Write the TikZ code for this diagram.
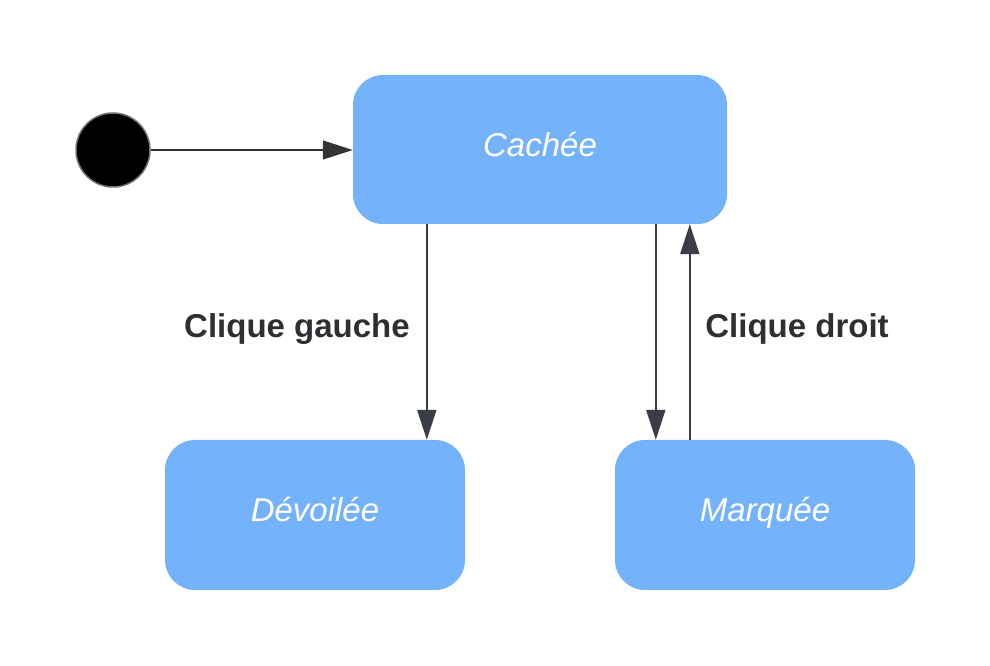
\documentclass[tikz,border=0pt]{standalone}
\usepackage{fontspec}
\setmainfont{Liberation Sans}
\usetikzlibrary{arrows.meta,calc}
\definecolor{boxblue}{HTML}{75B2FC}
\definecolor{arrowdark}{HTML}{3A3D45}
\definecolor{labeldark}{HTML}{2E2E33}
\tikzset{
  state/.style={rectangle, rounded corners=30pt, fill=boxblue, draw=none,
    minimum width=300pt, minimum height=150pt, inner sep=0pt,
    text height=13.5pt, text depth=0pt,
    text=white, font=\fontsize{33}{39}\selectfont\itshape},
  trans/.style={draw=arrowdark, line width=2pt,
    -{Triangle[length=30pt,width=19pt]}},
  initarrow/.style={draw=black!80, line width=1.3pt,
    -{Triangle[length=30pt,width=19pt]}},
  translabel/.style={inner sep=0pt, anchor=base, text=labeldark,
    font=\fontsize{33}{39}\selectfont\bfseries},
}
\begin{document}
\begin{tikzpicture}[x=1pt,y=1pt]
\useasboundingbox[fill=white] (0,0) rectangle (990,666);
\node[state, minimum width=374pt, minimum height=149pt] (cachee) at (540,516.5) {Cachée};
\node[state] (devoilee) at (315,151) {Dévoilée};
\node[state] (marquee) at (765,151) {Marquée};
\node[circle, fill=black, draw=black!55, line width=1.5pt, minimum size=74pt, inner sep=0pt] (init) at (113,516) {};
\coordinate (c1) at ($(cachee.south west)+(74,0)$);
\coordinate (c2) at ($(cachee.south west)+(303,0)$);
\coordinate (c3) at ($(cachee.south west)+(337,0)$);
\coordinate (d1) at (c1 |- devoilee.north);
\coordinate (m1) at (c2 |- marquee.north);
\coordinate (m2) at (c3 |- marquee.north);
\draw[initarrow] (init.east) -- (init.east -| cachee.west);
\draw[trans] (c1) -- (d1);
\draw[trans] (c2) -- (m1);
\draw[trans] (m2) -- (c3);
\node[translabel] (lg) at (297,328) {Clique gauche};
\node[translabel] (ld) at (797,328) {Clique droit};
\end{tikzpicture}
\end{document}
